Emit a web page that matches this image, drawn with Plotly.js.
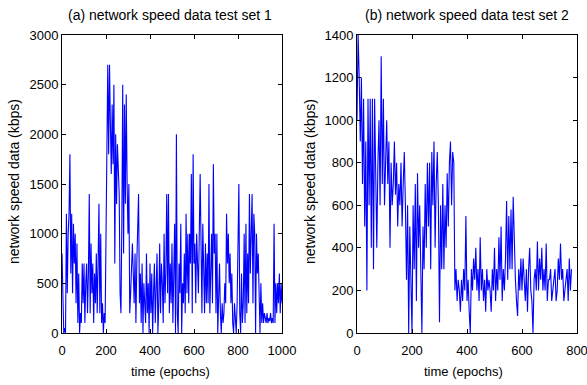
<!DOCTYPE html>
<html>
<head>
<meta charset="utf-8">
<script src="https://cdn.plot.ly/plotly-3.0.1.min.js"></script>
<style>html,body{margin:0;padding:0;background:#fff;}#chart{width:587px;height:385px;}</style>
</head>
<body>
<div id="chart"></div>
<script>
// Test set 1: network speed (kbps), sampled every 4 epochs from 0 to 1000
const stepA = 4;
const speedA = [
  800, 300, 0, 50, 0, 1200,
  400, 1000, 1200, 1800, 600,
  1200, 400, 1100, 700, 1000,
  300, 900, 100, 600, 0,
  200, 100, 700, 300, 700,
  100, 500, 700, 200, 600,
  1400, 200, 900, 400, 700,
  100, 600, 300, 800, 200,
  700, 1300, 200, 1000, 100,
  300, 0, 200, 100, 1000,
  2000, 2700, 1800, 2700, 2100,
  1600, 2300, 1700, 2500, 700,
  2000, 1300, 1900, 1600, 1400,
  400, 200, 1100, 2500, 800,
  2300, 1300, 2400, 1500, 1000,
  1500, 200, 400, 700, 900,
  600, 300, 800, 100, 700,
  1200, 1400, 300, 600, 100,
  700, 0, 500, 300, 100,
  800, 200, 500, 0, 700,
  200, 600, 0, 400, 700,
  100, 500, 800, 0, 300,
  900, 200, 700, 500, 100,
  1000, 300, 600, 1400, 400,
  1400, 200, 700, 300, 900,
  100, 600, 1100, 0, 2000,
  200, 0, 700, 400, 1100,
  0, 500, 300, 800, 200,
  1200, 400, 1000, 300, 1000,
  700, 1600, 200, 1800, 700,
  900, 300, 1000, 500, 400,
  1000, 1600, 900, 200, 1100,
  600, 200, 900, 300, 800,
  300, 1500, 200, 600, 1000,
  300, 1700, 800, 1000, 200,
  1000, 0, 600, 700, 200,
  0, 300, 100, 200, 500,
  300, 1200, 700, 1000, 500,
  800, 300, 600, 100, 0,
  300, 100, 0, 300, 1000,
  1500, 200, 0, 600, 100,
  300, 1000, 100, 1100, 200,
  800, 300, 1400, 600, 1000,
  1400, 300, 1200, 1000, 0,
  1000, 600, 800, 300, 0,
  500, 100, 300, 100, 200,
  150, 100, 200, 100, 150,
  120, 200, 100, 150, 100,
  1100, 100, 500, 200, 500,
  300, 600, 200, 500, 300
];

// Test set 2: network speed (kbps), sampled every 4 epochs from 0 to 780
const stepB = 4;
const speedB = [
  1000, 1400, 1200, 900, 1200,
  700, 1100, 500, 900, 200,
  1100, 600, 1100, 400, 1100,
  300, 1100, 600, 400, 800,
  1000, 600, 1300, 700, 1100,
  600, 800, 1000, 700, 900,
  400, 800, 600, 700, 900,
  650, 800, 500, 700, 600,
  800, 500, 700, 850, 600,
  250, 600, 0, 500, 200,
  0, 600, 300, 700, 150,
  750, 400, 600, 200, 0,
  500, 300, 700, 400, 800,
  500, 800, 300, 850, 600,
  900, 400, 700, 850, 600,
  50, 600, 300, 700, 300,
  600, 400, 750, 500, 800,
  900, 600, 850, 800, 200,
  300, 150, 250, 200, 100,
  250, 150, 300, 200, 550,
  150, 250, 100, 0, 300,
  200, 350, 250, 400, 200,
  300, 150, 450, 200, 300,
  150, 250, 100, 300, 200,
  250, 200, 100, 300, 200,
  400, 150, 300, 200, 450,
  250, 500, 150, 300, 200,
  350, 620, 250, 550, 300,
  580, 300, 640, 400, 250,
  150, 80, 300, 200, 350,
  200, 350, 250, 150, 300,
  100, 300, 400, 200, 150,
  0, 250, 300, 200, 430,
  200, 350, 250, 400, 200,
  300, 200, 420, 150, 250,
  250, 300, 150, 200, 250,
  300, 150, 200, 350, 250,
  420, 250, 300, 150, 200,
  250, 300, 150, 350, 200, 300
];

const titleA = "(a) network speed data test set 1";
const titleB = "(b) network speed data test set 2";
const xTitle = "time (epochs)";
const yTitle = "network speed data (kbps)";

const epochsA = speedA.map((_, i) => i * stepA);
const epochsB = speedB.map((_, i) => i * stepB);

const W = 587, H = 385;
const font = "Liberation Sans, Arial, sans-serif";

const traces = [
  {x: epochsA, y: speedA, type: "scatter", mode: "lines", line: {color: "#0000ff", width: 1.1}, xaxis: "x", yaxis: "y", hoverinfo: "skip"},
  {x: epochsB, y: speedB, type: "scatter", mode: "lines", line: {color: "#0000ff", width: 1.1}, xaxis: "x2", yaxis: "y2", hoverinfo: "skip"}
];

function ax(extra) {
  return Object.assign({
    showgrid: false, zeroline: false, showline: true, linecolor: "#000", linewidth: 1,
    mirror: "ticks", ticks: "inside", ticklen: 4, tickcolor: "#000", tickwidth: 1,
    tickfont: {family: font, size: 13, color: "#000"}, fixedrange: true,
    ticklabeloverflow: "allow"
  }, extra);
}

const yTop = 1 - 35 / H, yBot = 1 - 333 / H;
const layout = {
  width: W, height: H,
  margin: {l: 0, r: 0, t: 0, b: 0},
  paper_bgcolor: "#fff", plot_bgcolor: "#fff",
  showlegend: false,
  xaxis: ax({domain: [62 / W, 282 / W], range: [0, 1000], dtick: 200, tick0: 0, anchor: "y", ticklabelstandoff: 5}),
  yaxis: ax({domain: [yBot, yTop], range: [0, 3000], dtick: 500, tick0: 0, anchor: "x"}),
  xaxis2: ax({domain: [357 / W, 577 / W], range: [0, 800], dtick: 200, tick0: 0, anchor: "y2", ticklabelstandoff: 5}),
  yaxis2: ax({domain: [yBot, yTop], range: [0, 1400], dtick: 200, tick0: 0, anchor: "x2"}),
  annotations: [
    {text: titleA, xref: "paper", yref: "paper", x: 170 / W, y: 1 - 15 / H, showarrow: false, xanchor: "center", yanchor: "middle", font: {family: font, size: 14, color: "#000"}},
    {text: titleB, xref: "paper", yref: "paper", x: 467 / W, y: 1 - 15 / H, showarrow: false, xanchor: "center", yanchor: "middle", font: {family: font, size: 14, color: "#000"}},
    {text: xTitle, xref: "paper", yref: "paper", x: 170 / W, y: 1 - 371 / H, showarrow: false, xanchor: "center", yanchor: "middle", font: {family: font, size: 13, color: "#000"}},
    {text: xTitle, xref: "paper", yref: "paper", x: 464 / W, y: 1 - 371 / H, showarrow: false, xanchor: "center", yanchor: "middle", font: {family: font, size: 13, color: "#000"}},
    {text: yTitle, xref: "paper", yref: "paper", x: 14 / W, y: 1 - 182 / H, showarrow: false, textangle: -90, xanchor: "center", yanchor: "middle", font: {family: font, size: 14, color: "#000"}},
    {text: yTitle, xref: "paper", yref: "paper", x: 310 / W, y: 1 - 182 / H, showarrow: false, textangle: -90, xanchor: "center", yanchor: "middle", font: {family: font, size: 14, color: "#000"}}
  ]
};

Plotly.newPlot("chart", traces, layout, {staticPlot: true, displayModeBar: false});
</script>
</body>
</html>
